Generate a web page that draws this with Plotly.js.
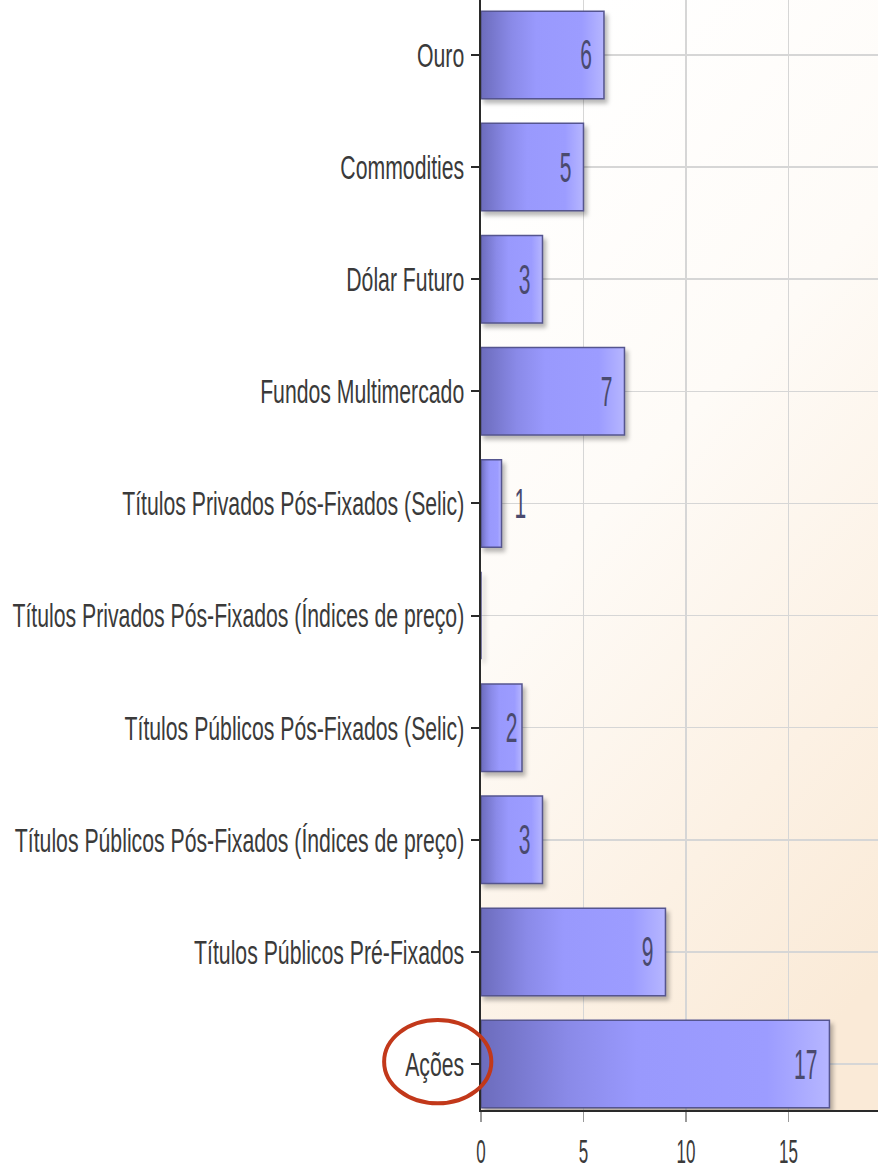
<!DOCTYPE html>
<html>
<head>
<meta charset="utf-8">
<script src="https://cdn.plot.ly/plotly-3.0.1.min.js"></script>
<style>
html,body{margin:0;padding:0;background:#ffffff;}
#chart{width:878px;height:1171px;}
</style>
</head>
<body>
<div id="chart"></div>
<script>
// Data (top to bottom as in the chart)
const categories = [
  "Ouro",
  "Commodities",
  "Dólar Futuro",
  "Fundos Multimercado",
  "Títulos Privados Pós-Fixados (Selic)",
  "Títulos Privados Pós-Fixados (Índices de preço)",
  "Títulos Públicos Pós-Fixados (Selic)",
  "Títulos Públicos Pós-Fixados (Índices de preço)",
  "Títulos Públicos Pré-Fixados",
  "Ações"
];
const values = [6, 5, 3, 7, 1, 0, 2, 3, 9, 17];
const xTickVals = [0, 5, 10, 15];
const xTickText = ["0", "5", "10", "15"];

const fam = "Liberation Sans, Arial, sans-serif";

const trace = {
  type: "bar",
  orientation: "h",
  y: categories,
  x: values,
  width: 0.78,
  text: values.map(v => v > 0 ? String(v) : ""),
  textposition: values.map(v => v <= 1 ? "outside" : "inside"),
  insidetextanchor: "end",
  textangle: 0,
  cliponaxis: false,
  constraintext: "none",
  textfont: {family: fam, size: 42, color: "#4a4a6e"},
  insidetextfont: {family: fam, size: 42, color: "#4a4a6e"},
  outsidetextfont: {family: fam, size: 42, color: "#4a4a6e"},
  marker: {color: "#9898fb", line: {color: "#55558f", width: 1.5}},
  hoverinfo: "none"
};

const layout = {
  width: 878,
  height: 1171,
  margin: {l: 481, r: 0, t: 0, b: 61},
  paper_bgcolor: "#ffffff",
  plot_bgcolor: "#fdf5ec",
  showlegend: false,
  xaxis: {
    range: [0, 19.37],
    tickvals: xTickVals,
    ticktext: xTickText,
    showgrid: true,
    gridcolor: "#d6d6d6",
    gridwidth: 1.5,
    zeroline: false,
    showline: true,
    linecolor: "#2a2a2a",
    linewidth: 2,
    ticks: "outside",
    ticklen: 10,
    tickcolor: "#9a9a9a",
    tickwidth: 1.5,
    tickfont: {family: fam, size: 34, color: "#3a3a3a"},
    fixedrange: true
  },
  yaxis: {
    type: "category",
    range: [9.41, -0.49],
    showgrid: true,
    gridcolor: "#d6d6d6",
    gridwidth: 1.5,
    zeroline: false,
    showline: true,
    linecolor: "#2a2a2a",
    linewidth: 2,
    ticks: "outside",
    ticklen: 8,
    tickcolor: "#2a2a2a",
    tickwidth: 2,
    ticklabelstandoff: 0,
    tickfont: {family: fam, size: 34, color: "#3a3a3a"},
    fixedrange: true
  },
  shapes: [{
    type: "circle",
    xref: "paper", yref: "paper",
    x0: -0.244, x1: 0.026,
    y0: 0.006, y1: 0.081,
    line: {color: "#c2381a", width: 4},
    fillcolor: "rgba(0,0,0,0)"
  }]
};

function squeeze(el, s, anchor, dx) {
  const bb = el.getBBox();
  const cx = anchor === "end" ? bb.x + bb.width : (anchor === "start" ? bb.x : bb.x + bb.width / 2);
  const tr = el.getAttribute("transform") || "";
  el.setAttribute("transform", tr + " translate(" + (cx + (dx || 0)) + ",0) scale(" + s + ",1) translate(" + (-cx) + ",0)");
}

Plotly.newPlot("chart", [trace], layout, {staticPlot: true, displayModeBar: false}).then(gd => {
  const svgNS = "http://www.w3.org/2000/svg";
  const svg = gd.querySelector("svg.main-svg");
  let defs = svg.querySelector("defs");
  if (!defs) { defs = document.createElementNS(svgNS, "defs"); svg.insertBefore(defs, svg.firstChild); }
  function grad(id, x1, y1, x2, y2, stops) {
    const g = document.createElementNS(svgNS, "linearGradient");
    g.setAttribute("id", id);
    g.setAttribute("x1", x1); g.setAttribute("y1", y1);
    g.setAttribute("x2", x2); g.setAttribute("y2", y2);
    stops.forEach(s => {
      const st = document.createElementNS(svgNS, "stop");
      st.setAttribute("offset", s[0]);
      st.setAttribute("stop-color", s[1]);
      g.appendChild(st);
    });
    defs.appendChild(g);
  }
  grad("barGrad", 0, 0, 1, 0, [[0, "#6c6cbc"], [0.25, "#8a8ae8"], [0.45, "#9999fd"], [0.82, "#9c9cff"], [1, "#b6b6ff"]]);
  grad("bgGrad", 0.3, 0, 0.7, 1, [[0, "#ffffff"], [0.4, "#fefbf7"], [0.75, "#fcf1e4"], [1, "#faead7"]]);
  const bg = svg.querySelector(".bglayer rect.bg");
  if (bg) bg.style.fill = "url(#bgGrad)";
  gd.querySelectorAll(".barlayer .point path").forEach(p => {
    p.style.fill = "url(#barGrad)";
    p.style.filter = "drop-shadow(3px 4px 2px rgba(0,0,0,0.28))";
  });

  // condensed look: compress text horizontally (long label fits 452px like the reference)
  const yt = Array.from(gd.querySelectorAll(".ytick text"));
  let maxW = 0;
  yt.forEach(t => { maxW = Math.max(maxW, t.getBBox().width); });
  const sy = 452 / maxW;
  yt.forEach(t => squeeze(t, sy, "end", 0));
  gd.querySelectorAll(".xtick text").forEach(t => squeeze(t, 0.5, "middle", 0));
  gd.querySelectorAll(".barlayer .point text").forEach((t, i) => {
    const pos = trace.textposition[i];
    if (pos === "outside") squeeze(t, 0.5, "start", 10);
    else squeeze(t, 0.5, "end", -9);
  });
});
</script>
</body>
</html>
